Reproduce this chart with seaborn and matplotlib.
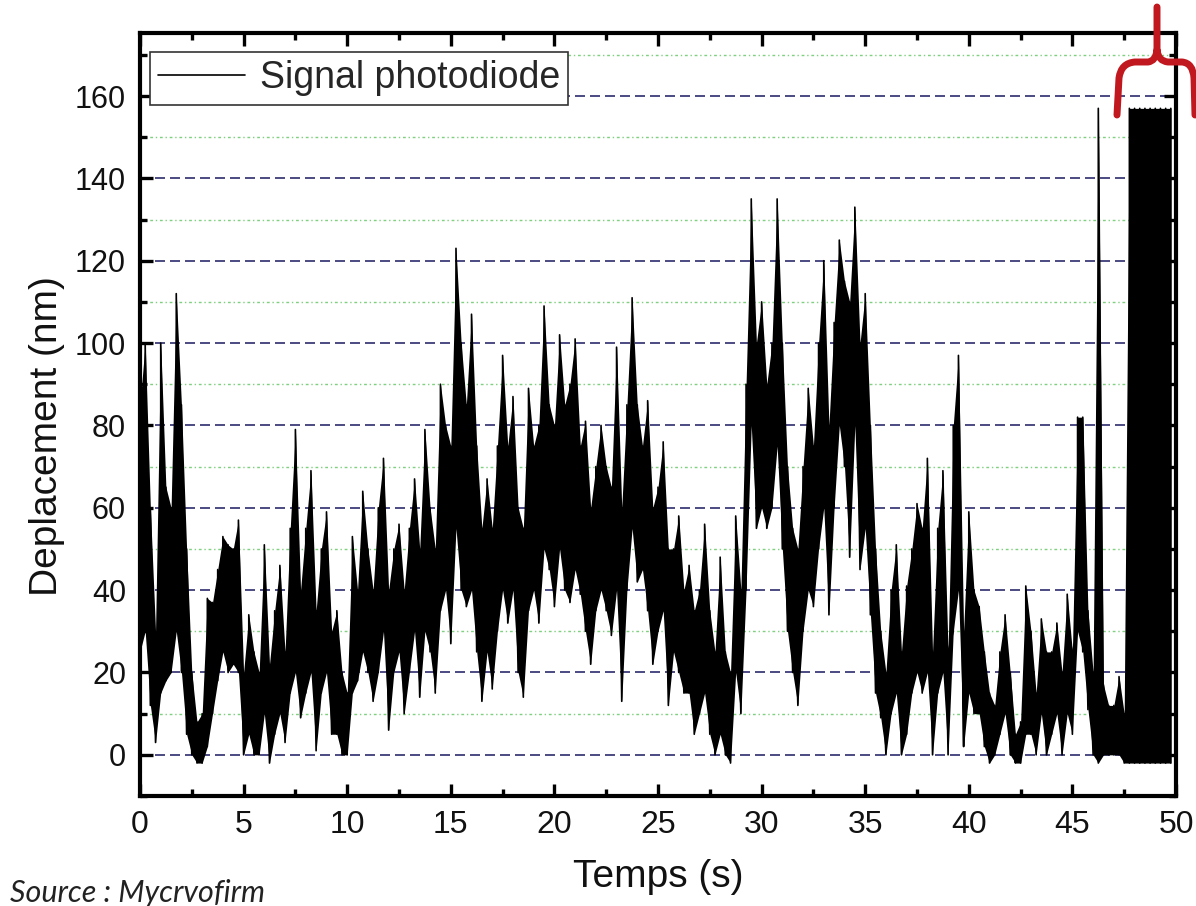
import numpy as np
import pandas as pd
import matplotlib
matplotlib.use("Agg")
import matplotlib.pyplot as plt
import seaborn as sns
from matplotlib.ticker import MultipleLocator
from matplotlib.path import Path
from matplotlib.patches import PathPatch

# Photodiode trace, sampled every 0.25 s: lower and upper extent of the signal
t_step = 0.25
sig_hi = [
    85, 100, 60, 30, 100, 65, 60, 112, 85, 50, 20, 8, 10, 38, 37, 45, 53, 51, 50, 57,
    20, 34, 25, 20, 51, 22, 35, 46, 25, 55, 79, 40, 55, 69, 35, 50, 59, 30, 35, 20,
    15, 53, 40, 64, 50, 40, 60, 72, 40, 50, 56, 40, 55, 67, 50, 79, 60, 50, 90, 80,
    75, 123, 100, 85, 107, 75, 55, 67, 55, 75, 97, 75, 87, 60, 55, 89, 75, 80, 109, 85,
    80, 102, 85, 90, 101, 75, 81, 60, 70, 80, 70, 65, 99, 60, 85, 111, 85, 75, 86, 60,
    65, 76, 50, 50, 58, 40, 46, 35, 40, 56, 35, 25, 48, 25, 20, 58, 40, 90, 135, 100,
    110, 90, 100, 135, 100, 70, 55, 50, 70, 89, 75, 100, 120, 80, 105, 125, 115, 110, 133, 100,
    112, 80, 50, 30, 20, 40, 51, 25, 41, 50, 61, 55, 72, 25, 55, 69, 25, 80, 97, 30,
    59, 40, 36, 25, 15, 12, 25, 34, 20, 5, 8, 41, 30, 15, 33, 25, 25, 32, 20, 39,
    25, 82, 82, 35, 20, 157, 17, 12, 12, 19, 10, 157, 157, 157, 157, 157, 157, 157, 157, 157,
]
sig_lo = [
    25, 30, 12, 3, 15, 18, 20, 30, 20, 5, 0, -2, -2, 2, 10, 18, 25, 20, 22, 20,
    0, 5, 0, 0, 10, -2, 5, 10, 3, 15, 20, 9, 15, 20, 1, 15, 20, 5, 5, 0,
    0, 15, 18, 25, 20, 13, 20, 30, 6, 20, 25, 10, 20, 30, 14, 30, 25, 15, 35, 40,
    27, 55, 40, 36, 40, 25, 13, 25, 16, 30, 40, 32, 40, 20, 14, 35, 40, 32, 50, 45,
    36, 50, 40, 37, 45, 39, 30, 22, 35, 40, 35, 29, 40, 13, 40, 55, 42, 45, 35, 22,
    30, 35, 12, 25, 20, 15, 15, 5, 10, 15, 5, 0, 5, 0, -2, 20, 10, 40, 80, 55,
    60, 55, 60, 75, 50, 30, 20, 12, 30, 40, 36, 50, 60, 34, 60, 80, 70, 48, 80, 45,
    55, 34, 15, 9, 0, 10, 15, 0, 5, 15, 20, 15, 20, 0, 15, 20, 0, 30, 40, 2,
    15, 10, 10, 2, -2, 0, 5, 10, 0, -2, -2, 5, 5, 0, 10, 0, 5, 10, 0, 10,
    5, 30, 25, 11, 0, -2, 0, 0, 0, 0, -2, -2, -2, -2, -2, -2, -2, -2, -2, -2,
]

x_ticks = [0, 5, 10, 15, 20, 25, 30, 35, 40, 45, 50]
y_ticks = [0, 20, 40, 60, 80, 100, 120, 140, 160]
series_name = "Signal photodiode"
x_title = "Temps (s)"
y_title = "Deplacement (nm)"
source_note = "Source : Mycrvofirm"

# ---------------------------------------------------------------------------
sns.set_theme(style="white")
plt.rcParams["font.family"] = ["Liberation Sans", "DejaVu Sans"]

t = np.arange(len(sig_hi)) * t_step
lo = np.asarray(sig_lo, dtype=float)
hi = np.asarray(sig_hi, dtype=float)

# zig-zag trace running between low and high extent at every sample
trace = pd.DataFrame({
    "t": np.repeat(t, 2),
    "v": np.column_stack([lo, hi]).ravel(),
})

fig = plt.figure(figsize=(11.96, 9.06), dpi=100)
ax = fig.add_axes([140 / 1196, 1 - 796 / 906, 1036 / 1196, 763 / 906])

ax.fill_between(t, lo, hi, color="black", linewidth=0, zorder=2)
sns.lineplot(data=trace, x="t", y="v", sort=False, estimator=None,
             color="black", linewidth=1.2, ax=ax, label=series_name, zorder=3)

ax.set_xlim(0, 50)
ax.set_ylim(-10, 175.3)
ax.set_xticks(x_ticks)
ax.set_yticks(y_ticks)
ax.xaxis.set_minor_locator(MultipleLocator(2.5))
ax.yaxis.set_minor_locator(MultipleLocator(10))

ax.set_axisbelow(True)
ax.grid(False)
ax.yaxis.grid(True, which="major", linestyle=(0, (6, 3)), color="#2c2c6e",
              linewidth=1.2, zorder=0)
ax.yaxis.grid(True, which="minor", linestyle=(0, (2, 2, 1, 2)), color="#7fd07f",
              linewidth=1.0, zorder=0)

for s in ax.spines.values():
    s.set_linewidth(3.0)
    s.set_color("black")

ax.tick_params(which="both", direction="in", top=True, right=True,
               bottom=True, left=True, color="black")
ax.tick_params(which="major", length=9, width=2.4, pad=10)
ax.tick_params(which="minor", length=5, width=2.4)
ax.tick_params(axis="x", which="major", labelsize=23, labelcolor="#111111")
ax.tick_params(axis="y", which="major", labelsize=22, labelcolor="#111111")

ax.set_xlabel(x_title, fontsize=28, color="#111111")
ax.set_ylabel(y_title, fontsize=28, color="#111111")
ax.xaxis.set_label_coords(0.5, -0.083)
ax.yaxis.set_label_coords(-0.072, 0.472)

leg = ax.legend(loc="upper left", bbox_to_anchor=(0.0097, 0.975),
                borderaxespad=0, fontsize=27, frameon=True, fancybox=False,
                handlelength=2.3, handletextpad=0.4, borderpad=0.22)
leg.get_frame().set_edgecolor("#333333")
leg.get_frame().set_linewidth(1.2)
leg.get_frame().set_facecolor("white")
leg.get_frame().set_alpha(1)
for ln in leg.get_lines():
    ln.set_linewidth(1.2)

# red brace marking the saturated stretch at the end of the record
W, H = 1196.0, 906.0
def fp(x, y):
    return (x / W, 1 - y / H)

verts = [
    fp(1117, 115), fp(1119, 78), fp(1121, 63), fp(1135, 62), fp(1148, 62),
    fp(1156, 61), fp(1157, 50), fp(1157, 7),
    fp(1157, 50), fp(1158, 61), fp(1168, 62), fp(1182, 62),
    fp(1193, 63), fp(1194, 78), fp(1195, 115),
]
codes = [
    Path.MOVETO, Path.LINETO, Path.CURVE3, Path.CURVE3, Path.LINETO,
    Path.CURVE3, Path.CURVE3, Path.LINETO,
    Path.MOVETO, Path.CURVE3, Path.CURVE3, Path.LINETO,
    Path.CURVE3, Path.CURVE3, Path.LINETO,
]
brace = PathPatch(Path(verts, codes), transform=fig.transFigure, fill=False,
                  edgecolor="#c0181e", linewidth=5, capstyle="round",
                  joinstyle="round", zorder=10)
fig.patches.append(brace)

fig.text(10 / W, 4 / H, source_note, fontsize=22, style="italic",
         family=["Lato", "DejaVu Sans"], color="#222222", va="baseline", ha="left")

fig.savefig("out.png", dpi=100, facecolor="white")
